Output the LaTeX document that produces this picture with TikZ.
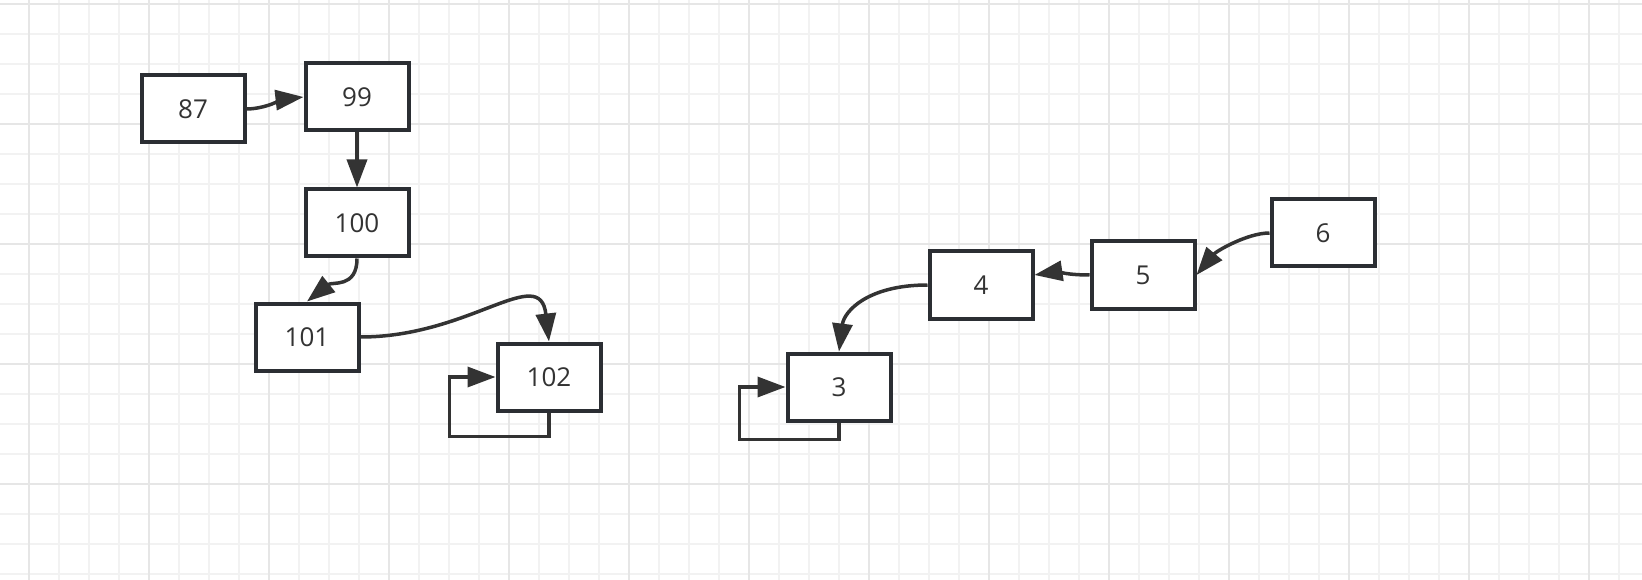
\documentclass[tikz,border=0pt]{standalone}
\usepackage{fontspec}
\setmainfont{Open Sans}
\usetikzlibrary{arrows.meta}
\definecolor{ink}{HTML}{2B2E33}
\definecolor{wire}{HTML}{333333}
\definecolor{gridminor}{HTML}{F2F2F2}
\definecolor{gridmajor}{HTML}{E6E6E6}
\begin{document}
\begin{tikzpicture}[x=1pt,y=-1pt,font=\fontsize{26}{30}\selectfont,
		cell/.style={draw=ink,line width=4pt,fill=white,text=wire,minimum width=103pt,minimum height=67pt,inner sep=0pt},
		link/.style={draw=wire,line width=3.5pt,-{Triangle[length=28pt 0,width=20pt 0]}},
		minor/.style={gridminor,line width=1.5pt},
		major/.style={gridmajor,line width=2pt}]
	\useasboundingbox (0,0) rectangle (1642,580);
	\fill[white] (0,0) rectangle (1642,580);
	% grid
	\foreach \x in {29,59,...,1642} \draw[minor] (\x,0)--(\x,580);
	\foreach \y in {4,34,...,580} \draw[minor] (0,\y)--(1642,\y);
	\foreach \x in {29,149,...,1642} \draw[major] (\x,0)--(\x,580);
	\foreach \y in {4,124,...,580} \draw[major] (0,\y)--(1642,\y);
	% first chain
	\node[cell] (n87) at (193,109) {87};
	\node[cell] (n99) at (357,97) {99};
	\node[cell] (n100) at (357,223) {100};
	\node[cell] (n101) at (307,337) {101};
	\node[cell] (n102) at (549,377) {102};
	\draw[link] (n87.east) .. controls +(18,0) and +(-18,2) .. (n99.west);
	\draw[link] (n99.south)--(n100.south|-n100.north);
	\draw[link] (n100.south) .. controls +(0,30) and +(25,-20) .. (n101.north);
	\draw[link] (n101.east) .. controls +(110,0) and +(-9,-79) .. (n102.north);
	\draw[link] (n102.south) -- ++(0,24) -| ([xshift=-46pt]n102.west) -- (n102.west);
	% second chain
	\node[cell] (n3) at (839,387) {3};
	\node[cell] (n4) at (981,285) {4};
	\node[cell] (n5) at (1143,275) {5};
	\node[cell] (n6) at (1323,233) {6};
	\draw[link] (n6.west) .. controls +(-22,0) and +(20,-24) .. (n5.east);
	\draw[link] (n5.west) .. controls +(-20,0) and +(20,-3) .. ([yshift=10pt]n4.east);
	\draw[link] (n4.west) .. controls +(-60,0) and +(5,-40) .. (n3.north);
	\draw[link] (n3.south) -- ++(0,17) -| ([xshift=-46pt]n3.west) -- (n3.west);
\end{tikzpicture}
\end{document}
